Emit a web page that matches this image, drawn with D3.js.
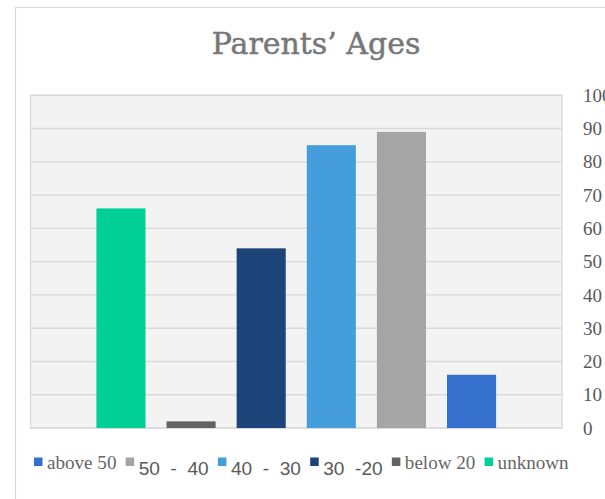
<!DOCTYPE html>
<html>
<head>
<meta charset="utf-8">
<script src="https://cdn.jsdelivr.net/npm/d3@7"></script>
<style>
  html, body { margin: 0; padding: 0; background: #fff; }
  svg { display: block; }
</style>
</head>
<body>
<svg id="chart" width="605" height="499"></svg>
<script>
// ---- data ----
const title = "Parents\u2019 Ages";
const categories = ["above 50", "50  -  40", "40  -  30", "30  -20", "below 20", "unknown"];
const values = [16, 89, 85, 54, 2, 66];
const colors = ["#3470cc", "#a5a5a5", "#459ddb", "#1c4479", "#636363", "#00d096"];
const yTicks = [0, 10, 20, 30, 40, 50, 60, 70, 80, 90, 100];

// ---- layout ----
const svg = d3.select("#chart");
const plot = { left: 30.5, right: 562, top: 95.3, bottom: 428 };

// outer chart frame (left and top edges visible)
svg.append("path")
  .attr("d", "M15.5,499 L15.5,7.5 L605,7.5")
  .attr("fill", "none").attr("stroke", "#d9d9d9").attr("stroke-width", 1.2);

// title
svg.append("text")
  .attr("x", 316).attr("y", 53.5)
  .attr("text-anchor", "middle")
  .attr("font-family", "DejaVu Serif")
  .attr("font-size", 30)
  .attr("fill", "#777")
  .attr("stroke", "#777").attr("stroke-width", 0.5)
  .text(title);

// scales: category axis reversed (value axis on the right)
const x = d3.scaleBand()
  .domain(categories.slice().reverse())
  .range([plot.left, plot.right])
  .paddingInner(0.3)
  .paddingOuter(0.94);
const y = d3.scaleLinear().domain([0, 100]).range([plot.bottom, plot.top]);

// plot area background
svg.append("rect")
  .attr("x", plot.left).attr("y", plot.top)
  .attr("width", plot.right - plot.left).attr("height", plot.bottom - plot.top)
  .attr("fill", "#f3f3f3").attr("stroke", "#d9d9d9").attr("stroke-width", 1.3);

// gridlines
svg.append("g").selectAll("line").data(yTicks).join("line")
  .attr("x1", plot.left).attr("x2", plot.right)
  .attr("y1", d => y(d)).attr("y2", d => y(d))
  .attr("stroke", "#d9d9d9").attr("stroke-width", 1.4);

// value axis on the right (the reference crops "100" at the image edge)
const axis = svg.append("g")
  .attr("transform", `translate(${plot.right},0)`)
  .call(d3.axisRight(y).tickValues(yTicks).tickSize(0).tickPadding(21).tickFormat(d3.format("d")));
axis.select(".domain").remove();
axis.selectAll("text")
  .attr("font-family", "Liberation Serif")
  .attr("font-size", 19)
  .attr("fill", "#595959");

// bars
svg.append("g").selectAll("rect").data(categories).join("rect")
  .attr("x", d => x(d))
  .attr("width", x.bandwidth())
  .attr("y", (d, i) => y(values[i]))
  .attr("height", (d, i) => y(0) - y(values[i]))
  .attr("fill", (d, i) => colors[i]);

// legend
const legend = svg.append("g");
let lx = 34;
categories.forEach((c, i) => {
  const sans = /^\d/.test(c);
  legend.append("rect")
    .attr("x", lx).attr("y", 457.5)
    .attr("width", 8.5).attr("height", 8.5)
    .attr("fill", colors[i]);
  const t = legend.append("text")
    .attr("x", lx + 13).attr("y", sans ? 475 : 469)
    .attr("xml:space", "preserve")
    .style("white-space", "pre")
    .attr("font-family", sans ? "Liberation Sans" : "Liberation Serif")
    .attr("font-size", 19.1)
    .attr("fill", sans ? "#595959" : "#666")
    .text(c);
  lx += 13 + t.node().getComputedTextLength() + 9.2;
});
</script>
</body>
</html>
